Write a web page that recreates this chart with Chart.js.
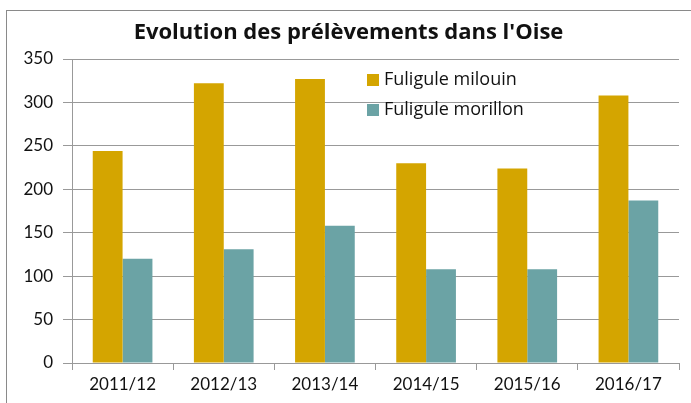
<!DOCTYPE html>
<html>
<head>
<meta charset="utf-8">
<script src="https://cdn.jsdelivr.net/npm/chart.js@4.4.0/dist/chart.umd.min.js"></script>
<style>
html,body{margin:0;padding:0;background:#fff;}
#wrap{position:relative;width:691px;height:403px;}
</style>
</head>
<body>
<div id="wrap"><canvas id="c" width="691" height="403"></canvas></div>
<script>
const categories = ['2011/12','2012/13','2013/14','2014/15','2015/16','2016/17'];
const milouin = [244, 322, 327, 230, 224, 308];
const morillon = [120, 131, 158, 108, 108, 187];
const seriesNames = ['Fuligule milouin','Fuligule morillon'];
const yTicks = [0,50,100,150,200,250,300,350];
const titleText = "Evolution des prélèvements dans l'Oise";

const FONT = 'Lato, "Open Sans", sans-serif';
const TFONT = '"Open Sans", Lato, sans-serif';
const colors = ['#D4A500','#6BA3A5'];

const frame = {
  id:'frame',
  beforeDraw(chart){
    const ctx = chart.ctx;
    ctx.save();
    ctx.fillStyle='#fff';
    ctx.fillRect(0,0,chart.width,chart.height);
    ctx.strokeStyle='#8a8a8a';
    ctx.lineWidth=1;
    ctx.strokeRect(6.5,10.5,900,900);
    ctx.restore();
  }
};

const legendIn = {
  id:'legendIn',
  afterDraw(chart){
    const ctx = chart.ctx;
    ctx.save();
    ctx.font = '18px ' + TFONT;
    ctx.textBaseline='middle';
    ctx.textAlign='left';
    chart.data.datasets.forEach((ds,i)=>{
      const y = 80 + i*30;
      ctx.fillStyle = ds.backgroundColor;
      ctx.fillRect(367, y-6, 12, 12);
      ctx.fillStyle = '#111';
      ctx.fillText(ds.label, 384, y);
    });
    ctx.restore();
  }
};

new Chart(document.getElementById('c'), {
  type:'bar',
  data:{
    labels: categories,
    datasets:[
      {label:seriesNames[0], data:milouin, backgroundColor:colors[0], categoryPercentage:0.59, barPercentage:1},
      {label:seriesNames[1], data:morillon, backgroundColor:colors[1], categoryPercentage:0.59, barPercentage:1}
    ]
  },
  options:{
    responsive:false,
    animation:false,
    devicePixelRatio:1,
    layout:{padding:{left:18,right:12,top:0,bottom:0}},
    plugins:{
      legend:{display:false},
      tooltip:{enabled:false},
      title:{
        display:true,
        text:titleText,
        color:'#111',
        font:{family:TFONT,size:22,weight:'bold'},
        padding:{top:20,bottom:12.6}
      }
    },
    scales:{
      x:{
        grid:{drawOnChartArea:false, drawTicks:true, tickLength:7, color:'#999', offset:true},
        border:{color:'#999'},
        ticks:{color:'#111', font:{family:FONT,size:17}, padding:4, maxRotation:0},
        afterFit(s){ s.height = 40; }
      },
      y:{
        min:0,max:350,
        afterBuildTicks(s){ s.ticks = yTicks.map(v=>({value:v})); },
        grid:{color:'#999', tickLength:9, lineWidth:1},
        border:{color:'#999'},
        ticks:{color:'#111', font:{family:FONT,size:17}, padding:10},
        afterFit(s){ s.width = 54; }
      }
    }
  },
  plugins:[frame, legendIn]
});
</script>
</body>
</html>
